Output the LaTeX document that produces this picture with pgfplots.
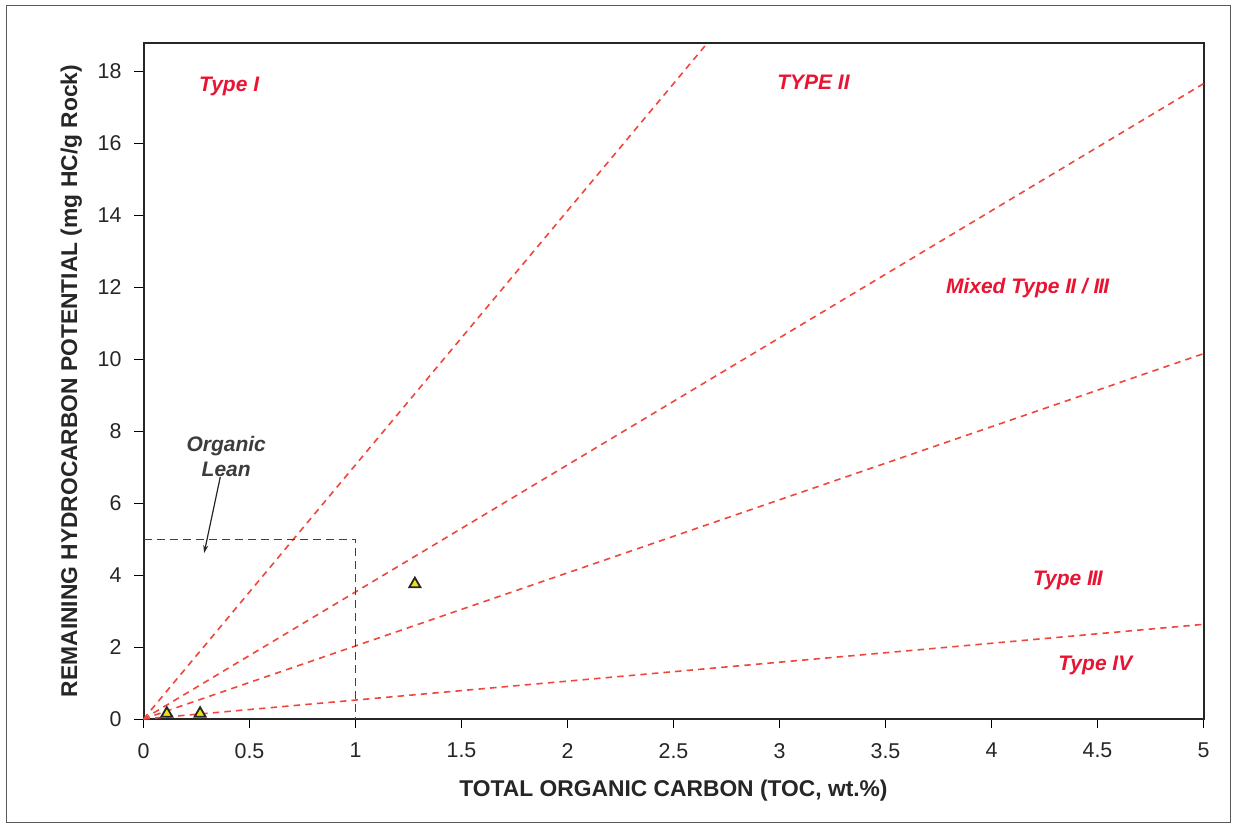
\documentclass[border=0pt]{standalone}
\usepackage{pgfplots}
\pgfplotsset{compat=1.18}
\usetikzlibrary{arrows.meta}
\usepackage{fontspec}
\setmainfont{Liberation Sans}
\definecolor{typered}{RGB}{232,20,50}
\definecolor{linered}{RGB}{240,70,60}
\definecolor{markyellow}{RGB}{235,225,20}
\definecolor{leangray}{RGB}{60,60,60}

\begin{document}
\begin{tikzpicture}[x=1pt,y=1pt]
% page and outer frame
\fill[white] (0,0) rectangle (617.5,412.5);
\draw[gray!70!black, line width=0.5pt] (3,1.5) rectangle (615,409.5);
\begin{axis}[
  at={(71.75pt,53pt)}, anchor=south west,
  scale only axis, width=530pt, height=338pt,
  xmin=0, xmax=5, ymin=0, ymax=18.78,
  xtick={0,0.5,...,5}, ytick={0,2,...,18},
  xticklabels={0,0.5,1,1.5,2,2.5,3,3.5,4,4.5,5},
  tick align=outside, major tick length=4.5pt,
  tick style={black, line width=0.5pt},
  xtick pos=bottom, ytick pos=left,
  axis line style={line width=1pt, black!85},
  /pgf/number format/assume math mode=true,
  ticklabel style={font=\fontsize{10.7}{12}\selectfont, text=black!85},
  xticklabel style={yshift=-4pt},
  yticklabel style={xshift=-3pt},
  xlabel={\textbf{TOTAL ORGANIC CARBON (TOC, wt.\%)}},
  ylabel={\textbf{REMAINING HYDROCARBON POTENTIAL (mg HC/g Rock)}},
  label style={font=\fontsize{11.4}{13}\selectfont, text=black!85},
  xlabel style={yshift=-4pt},
  ylabel style={yshift=1pt},
  clip=true,
]
% kerogen type boundaries
\addplot[linered, line width=0.8pt, dash pattern=on 3.2pt off 2.6pt] coordinates {(0,0) (2.66,18.78)};
\addplot[linered, line width=0.8pt, dash pattern=on 3.2pt off 2.6pt] coordinates {(0,0) (5,17.65)};
\addplot[linered, line width=0.8pt, dash pattern=on 3.2pt off 2.6pt] coordinates {(0,0) (5,10.15)};
\addplot[linered, line width=0.8pt, dash pattern=on 3.2pt off 2.6pt] coordinates {(0,0) (5,2.63)};
% organic lean window
\addplot[black!75, line width=0.5pt, dash pattern=on 4pt off 2.5pt] coordinates {(0,5) (1,5) (1,0)};
% samples
\addplot[only marks, mark=triangle*, mark size=3.2pt,
  mark options={fill=markyellow, draw=black!85, line width=0.9pt}]
  coordinates {(0.11,0.15) (0.267,0.15) (1.28,3.75)};
% region labels
\begin{scope}[every node/.style={font=\fontsize{10.5}{12}\selectfont\bfseries\itshape, text=typered}]
\node at (axis cs:0.404,17.58) {Type I};
\node at (axis cs:3.16,17.69) {TYPE II};
\node[inner xsep=0pt] at (axis cs:4.17,11.97) {Mixed Type I\kern-0.5ptI / I\kern-0.5ptI\kern-0.5ptI};
\node at (axis cs:4.36,3.86) {Type I\kern-0.5ptI\kern-0.5ptI};
\node at (axis cs:4.49,1.5) {Type IV};
\end{scope}
\node[font=\fontsize{10.5}{12.5}\selectfont\bfseries\itshape, text=leangray, align=center]
  at (axis cs:0.39,7.3) {Organic\\Lean};
\draw[-{Stealth[length=4pt,width=2.5pt]}, black!85, line width=0.6pt]
  (axis cs:0.362,6.72) -- (axis cs:0.286,4.61);
\end{axis}
\end{tikzpicture}
\end{document}
